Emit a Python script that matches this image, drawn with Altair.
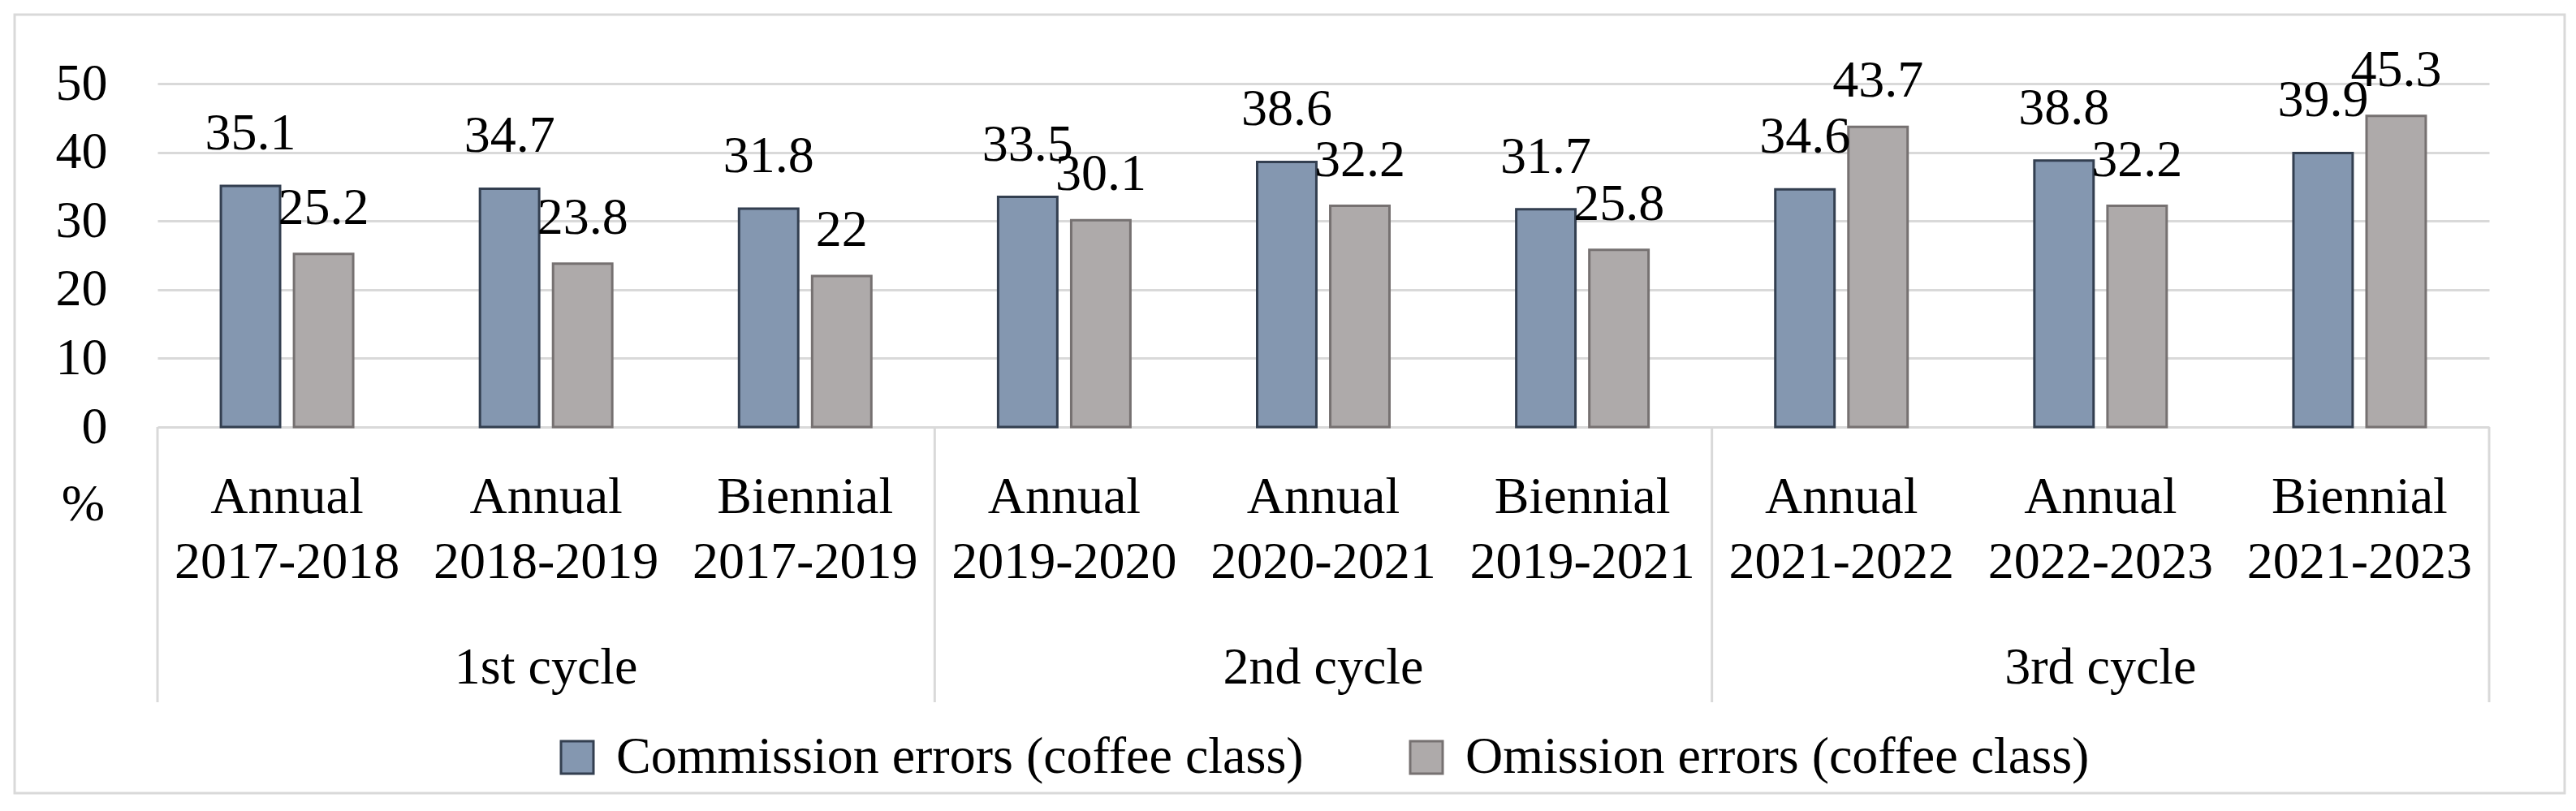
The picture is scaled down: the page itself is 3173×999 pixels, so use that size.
import altair as alt
import pandas as pd

# ---- data ----
types = ["Annual", "Annual", "Biennial", "Annual", "Annual", "Biennial", "Annual", "Annual", "Biennial"]
periods = ["2017-2018", "2018-2019", "2017-2019", "2019-2020", "2020-2021", "2019-2021",
           "2021-2022", "2022-2023", "2021-2023"]
cycle_of = ["1st cycle", "1st cycle", "1st cycle", "2nd cycle", "2nd cycle", "2nd cycle",
            "3rd cycle", "3rd cycle", "3rd cycle"]
commission = [35.1, 34.7, 31.8, 33.5, 38.6, 31.7, 34.6, 38.8, 39.9]
omission = [25.2, 23.8, 22, 30.1, 32.2, 25.8, 43.7, 32.2, 45.3]
series = ["Commission errors (coffee class)", "Omission errors (coffee class)"]
y_ticks = [0, 10, 20, 30, 40, 50]

cats = [f"{t} {p}" for t, p in zip(types, periods)]

rows = []
for c, v1, v2 in zip(cats, commission, omission):
    rows.append({"cat": c, "series": series[0], "value": v1, "label": f"{v1:g}"})
    rows.append({"cat": c, "series": series[1], "value": v2, "label": f"{v2:g}"})
bars_df = pd.DataFrame(rows)

cat_df = pd.DataFrame({"cat": cats, "type": types, "period": periods, "cycle": cycle_of})

cycle_names = list(dict.fromkeys(cycle_of))
cycle_first = [cats[cycle_of.index(n)] for n in cycle_names]
cycle_mid = [cats[cycle_of.index(n) + 1] for n in cycle_names]
cycle_df = pd.DataFrame({"cat": cycle_mid, "cycle": cycle_names})
sep_left_df = pd.DataFrame({"cat": cycle_first})
sep_right_df = pd.DataFrame({"cat": [cats[-1]]})

# ---- style ----
FONT = "Liberation Serif"
FS = 64
BLUE, BLUE_EDGE = "#8497B0", "#333F50"
GRAY, GRAY_EDGE = "#AEAAAA", "#767171"
GRID = "#D9D9D9"
W, H = 2872, 423

xscale = alt.Scale(domain=cats, paddingInner=0, paddingOuter=0)
xoff_scale = alt.Scale(domain=series, paddingInner=0.19, paddingOuter=0.867)
X = alt.X("cat:N", scale=xscale, axis=None)

legend = alt.Legend(
    title=None, orient="none", legendX=485, legendY=798, direction="horizontal",
    symbolType="square", symbolSize=1600, symbolStrokeWidth=3,
    labelFont=FONT, labelFontSize=FS, labelColor="#000", labelOffset=16,
    labelLimit=0, columnPadding=119, padding=0,
)

border = alt.Chart(cat_df.head(1)).mark_rect(
    filled=False, stroke=GRID, strokeWidth=3
).encode(
    x=alt.value(-176), x2=alt.value(2965), y=alt.value(-85), y2=alt.value(874)
)

bars = alt.Chart(bars_df).mark_bar(strokeWidth=3).encode(
    x=X,
    xOffset=alt.XOffset("series:N", scale=xoff_scale),
    y=alt.Y(
        "value:Q",
        scale=alt.Scale(domain=[0, 50], nice=False),
        axis=alt.Axis(
            values=y_ticks, title="%", titleAngle=0, titleX=-92, titleY=518,
            titleAlign="center", titleBaseline="middle", titleFont=FONT,
            titleFontSize=FS, titleFontWeight="normal", titleColor="#000",
            labelFont=FONT, labelFontSize=FS, labelColor="#000", labelPadding=62,
            ticks=False, tickSize=0, domain=False, grid=True,
            gridColor=GRID, gridWidth=3,
        ),
    ),
    fill=alt.Fill("series:N", scale=alt.Scale(domain=series, range=[BLUE, GRAY]), legend=legend),
    stroke=alt.Stroke("series:N", scale=alt.Scale(domain=series, range=[BLUE_EDGE, GRAY_EDGE]), legend=legend),
)


def value_labels(name, dy):
    return alt.Chart(bars_df).transform_filter(
        alt.datum.series == name
    ).mark_text(
        font=FONT, fontSize=FS, color="#000", baseline="alphabetic", align="center", dy=dy
    ).encode(
        x=X,
        xOffset=alt.XOffset("series:N", scale=xoff_scale),
        y=alt.Y("value:Q"),
        text="label:N",
    )


lab1 = value_labels(series[0], -45)
lab2 = value_labels(series[1], -37)

type_text = alt.Chart(cat_df).mark_text(
    font=FONT, fontSize=FS, color="#000", baseline="middle", align="center"
).encode(x=X, y=alt.value(510), text="type:N")

period_text = alt.Chart(cat_df).mark_text(
    font=FONT, fontSize=FS, color="#000", baseline="middle", align="center"
).encode(x=X, y=alt.value(590), text="period:N")

cycle_text = alt.Chart(cycle_df).mark_text(
    font=FONT, fontSize=FS, color="#000", baseline="middle", align="center"
).encode(x=X, y=alt.value(720), text="cycle:N")

sep_left = alt.Chart(sep_left_df).mark_rule(color=GRID, strokeWidth=3).encode(
    x=alt.X("cat:N", scale=xscale, axis=None, bandPosition=0),
    y=alt.value(H), y2=alt.value(762),
)
sep_right = alt.Chart(sep_right_df).mark_rule(color=GRID, strokeWidth=3).encode(
    x=alt.X("cat:N", scale=xscale, axis=None, bandPosition=1),
    y=alt.value(H), y2=alt.value(762),
)

chart = alt.layer(
    border, bars, lab1, lab2, type_text, period_text, cycle_text, sep_left, sep_right
).properties(
    width=W, height=H,
    padding={"left": 186, "top": 95, "right": 99, "bottom": 457},
    autosize=alt.AutoSizeParams(type="none"),
    background="white",
).configure_view(stroke=None)

chart.save("out.html", embed_options={"renderer": "svg", "actions": False})
